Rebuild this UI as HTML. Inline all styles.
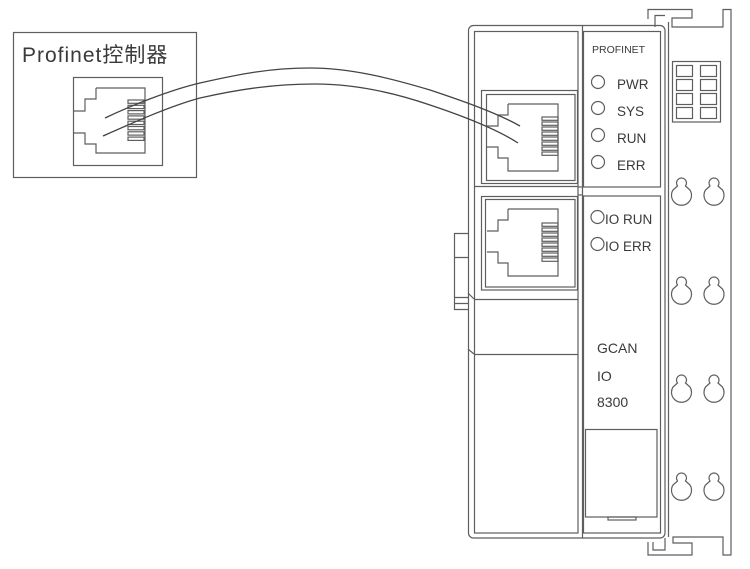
<!DOCTYPE html>
<html><head><meta charset="utf-8"><style>
html,body{margin:0;padding:0;background:#fff;}
svg{display:block;}
text{font-family:"Liberation Sans","Noto Sans CJK SC",sans-serif;fill:#3a3a3a;}
</style></head><body>
<svg width="750" height="569" viewBox="0 0 750 569" xmlns="http://www.w3.org/2000/svg">
<g fill="none" stroke="#5e5e5e" stroke-width="1.2">
<!-- controller -->
<rect x="13.5" y="32.5" width="183" height="145"/>
<rect x="73.5" y="77.5" width="89" height="88"/>
<path d="M96,88 L145,88 L145,153 L96,153 L96,144 L85,144 L85,133 L74,133 M74,111 L85,111 L85,99 L96,99 L96,88"/>
<g>
<rect x="128" y="100" width="16" height="3.3"/><rect x="128" y="105.3" width="16" height="3.3"/>
<rect x="128" y="110.6" width="16" height="3.3"/><rect x="128" y="115.9" width="16" height="3.3"/>
<rect x="128" y="121.2" width="16" height="3.3"/><rect x="128" y="126.5" width="16" height="3.3"/>
<rect x="128" y="131.8" width="16" height="3.3"/><rect x="128" y="137.1" width="16" height="3.3"/>
</g>

<!-- module outer -->
<rect x="468.5" y="25.5" width="196.5" height="512.5" rx="5"/>
<rect x="474.5" y="31.5" width="103.5" height="501.5"/>
<line x1="582.5" y1="25.5" x2="582.5" y2="538"/>
<!-- LED panel -->
<rect x="583.5" y="31.5" width="77" height="155.5"/>
<rect x="583.5" y="196" width="77" height="337"/>
<line x1="578" y1="187" x2="583" y2="187"/>
<line x1="578" y1="195" x2="583" y2="195"/>
<rect x="585.5" y="429.5" width="71.5" height="87.5"/>
<rect x="608" y="517" width="28" height="3"/>

<!-- jack 1 -->
<rect x="481.5" y="90.5" width="96" height="93"/>
<rect x="486.5" y="94.5" width="88.5" height="86"/>
<path d="M508,104 L558,104 L558,171 L508,171 L508,158 L498,158 L498,147 L487,147 M487,126 L498,126 L498,115 L508,115 L508,104"/>
<g>
<rect x="542" y="117" width="16" height="3.3"/><rect x="542" y="122" width="16" height="3.3"/>
<rect x="542" y="127" width="16" height="3.3"/><rect x="542" y="132" width="16" height="3.3"/>
<rect x="542" y="137" width="16" height="3.3"/><rect x="542" y="142" width="16" height="3.3"/>
<rect x="542" y="147" width="16" height="3.3"/><rect x="542" y="152" width="16" height="3.3"/>
</g>
<line x1="474" y1="186.5" x2="578" y2="186.5"/>

<!-- jack 2 -->
<rect x="481.5" y="196.5" width="96" height="93.5"/>
<rect x="485.5" y="199.5" width="89.5" height="87.5"/>
<path d="M508,209 L558,209 L558,276 L508,276 L508,263 L498,263 L498,252 L487,252 M487,231 L498,231 L498,220 L508,220 L508,209"/>
<g>
<rect x="542" y="223" width="16" height="3.3"/><rect x="542" y="228" width="16" height="3.3"/>
<rect x="542" y="233" width="16" height="3.3"/><rect x="542" y="238" width="16" height="3.3"/>
<rect x="542" y="243" width="16" height="3.3"/><rect x="542" y="248" width="16" height="3.3"/>
<rect x="542" y="253" width="16" height="3.3"/><rect x="542" y="258" width="16" height="3.3"/>
</g>
<line x1="474" y1="299.5" x2="578" y2="299.5"/>
<line x1="474" y1="354.5" x2="578" y2="354.5"/>
<path d="M468,293 L474,299 M468,349 L474,354"/>

<!-- side tab -->
<path d="M468,233.5 L454.5,233.5 L454.5,309.5 L468,309.5 M454.5,257.5 L468,257.5 M454.5,297.5 L468,297.5 M454.5,303.5 L468,303.5"/>

<!-- LED circles -->
<circle cx="598" cy="82" r="6.5"/>
<circle cx="598" cy="108" r="6.5"/>
<circle cx="598" cy="135" r="6.5"/>
<circle cx="598" cy="162" r="6.5"/>
<circle cx="597.5" cy="217" r="6.5"/>
<circle cx="597.5" cy="244" r="6.5"/>

<!-- rail -->
<path d="M648,19 L648,9.5 L692,9.5 L692,18 L672,18 L672,27 L723,27 L723,9.5 L731,9.5 L731,555 L723,555 L723,537 L673,537 L673,543 L692,543 L692,555 L648,555 L648,542"/>
<path d="M655,27 L655,15.5 L665,15.5 M653,542 L653,550 L665,550 L665,538"/>
<line x1="668.5" y1="22" x2="668.5" y2="537"/>
<!-- grid -->
<rect x="672.5" y="61.5" width="48" height="60.5"/>
<rect x="676.5" y="65.5" width="16" height="11"/><rect x="700.5" y="65.5" width="16" height="11"/>
<rect x="676.5" y="79.5" width="16" height="11"/><rect x="700.5" y="79.5" width="16" height="11"/>
<rect x="676.5" y="93.5" width="16" height="11"/><rect x="700.5" y="93.5" width="16" height="11"/>
<rect x="676.5" y="107.5" width="16" height="11"/><rect x="700.5" y="107.5" width="16" height="11"/>
<!-- keyholes -->
<g transform="translate(681.5,178)"><path d="M-4,8 A5,5 0 1 1 4,8 L8.5,12 A10,10 0 1 1 -8.5,12 Z"/></g>
<g transform="translate(714,178)"><path d="M-4,8 A5,5 0 1 1 4,8 L8.5,12 A10,10 0 1 1 -8.5,12 Z"/></g>
<g transform="translate(681.5,277)"><path d="M-4,8 A5,5 0 1 1 4,8 L8.5,12 A10,10 0 1 1 -8.5,12 Z"/></g>
<g transform="translate(714,277)"><path d="M-4,8 A5,5 0 1 1 4,8 L8.5,12 A10,10 0 1 1 -8.5,12 Z"/></g>
<g transform="translate(681.5,375)"><path d="M-4,8 A5,5 0 1 1 4,8 L8.5,12 A10,10 0 1 1 -8.5,12 Z"/></g>
<g transform="translate(714,375)"><path d="M-4,8 A5,5 0 1 1 4,8 L8.5,12 A10,10 0 1 1 -8.5,12 Z"/></g>
<g transform="translate(681.5,473)"><path d="M-4,8 A5,5 0 1 1 4,8 L8.5,12 A10,10 0 1 1 -8.5,12 Z"/></g>
<g transform="translate(714,473)"><path d="M-4,8 A5,5 0 1 1 4,8 L8.5,12 A10,10 0 1 1 -8.5,12 Z"/></g>
</g>

<!-- cables -->
<g fill="none" stroke="#444" stroke-width="1.3">
<path d="M105,118 C130,106 170,90 200,83 C240,74 270,68 310,68 C350,68 390,78 430,90 C460,100 495,112 520,126"/>
<path d="M103,136 C130,124 170,106 200,98 C240,89 275,84 315,84 C355,84 395,93 430,105 C460,115 495,128 518,143"/>
</g>

<!-- text -->
<text x="22" y="62" font-size="21" letter-spacing="1">Profinet控制器</text>
<text x="592" y="53" font-size="10.5">PROFINET</text>
<text x="617" y="89" font-size="13.5">PWR</text>
<text x="617" y="116" font-size="13.5">SYS</text>
<text x="617" y="143" font-size="13.5">RUN</text>
<text x="617" y="170" font-size="13.5">ERR</text>
<text x="605" y="224" font-size="13.5">IO RUN</text>
<text x="605" y="251" font-size="13.5">IO ERR</text>
<text x="597" y="353" font-size="14">GCAN</text>
<text x="597" y="381" font-size="14">IO</text>
<text x="597" y="407" font-size="14">8300</text>
</svg>
</body></html>
